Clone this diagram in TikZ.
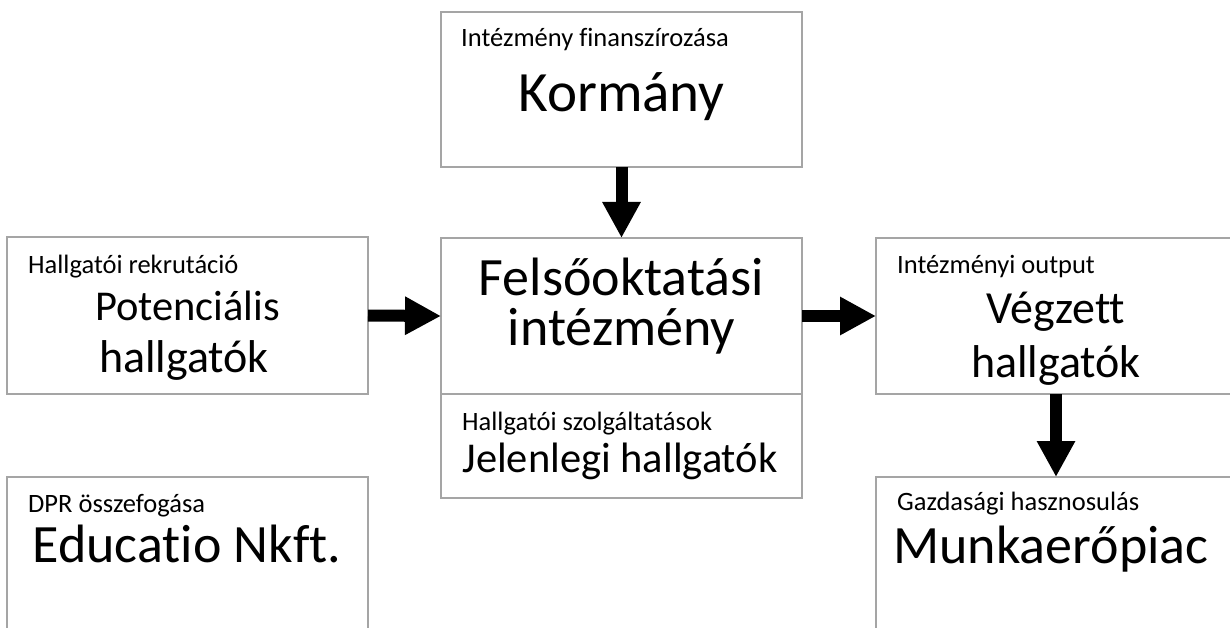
\documentclass[tikz,border=0pt]{standalone}
\usepackage{fontspec}
\setmainfont{Carlito}[Ligatures=CommonOff]
\usetikzlibrary{arrows.meta}
\definecolor{boxgray}{RGB}{165,165,165}
\begin{document}
\begin{tikzpicture}[x=1pt,y=-1pt,
  box/.style={draw=boxgray, line width=1.2pt, rectangle, inner sep=0pt, outer sep=0pt, anchor=north west},
  smalltxt/.style={font=\fontsize{26.5}{30}\selectfont, inner sep=0pt, anchor=base west},
  bigtxt/.style={font=\fontsize{54}{60}\selectfont, inner sep=0pt, anchor=base},
  midtxt/.style={font=\fontsize{44}{50}\selectfont, inner sep=0pt, anchor=base},
  fat/.style={line width=12pt, black, -{Triangle[length=36pt,width=36pt]}}]
\useasboundingbox (0,0) rectangle (1230,628);
\clip (0,0) rectangle (1230,628);
% boxes
\node[box, minimum width=361pt, minimum height=155pt] (kor) at (441,12) {};
\node[box, minimum width=361pt, minimum height=157pt] (pot) at (7,237) {};
\node[box, minimum width=361pt, minimum height=156pt] (fel) at (441,238) {};
\node[box, minimum width=361pt, minimum height=104pt] (jel) at (441,394) {};
\node[box, minimum width=360pt, minimum height=156pt] (veg) at (876,238) {};
\node[box, minimum width=361pt, minimum height=200pt] (edu) at (7,477) {};
\node[box, minimum width=360pt, minimum height=200pt] (mun) at (876,477) {};
% texts
\node[smalltxt] (korS) at (461,47) {Intézmény finanszírozása};
\node[bigtxt, font=\fontsize{57}{60}\selectfont] (korB) at (621.5,112) {Kormány};
\node[smalltxt] (potS) at (28,273) {Hallgatói rekrutáció};
\node[midtxt, font=\fontsize{42.5}{50}\selectfont] (potB1) at (187.5,320) {Potenciális};
\node[midtxt, font=\fontsize{46}{50}\selectfont] (potB2) at (184,372) {hallgatók};
\node[bigtxt] (felB1) at (621.5,295) {Felsőoktatási};
\node[bigtxt] (felB2) at (621.5,345) {intézmény};
\node[smalltxt] (jelS) at (462,430) {Hallgatói szolgáltatások};
\node[midtxt, font=\fontsize{42.5}{50}\selectfont] (jelB) at (620,472) {Jelenlegi hallgatók};
\node[smalltxt] (vegS) at (897,273) {Intézményi output};
\node[midtxt, font=\fontsize{46}{50}\selectfont] (vegB1) at (1056,323) {Végzett};
\node[midtxt, font=\fontsize{46}{50}\selectfont] (vegB2) at (1056,377) {hallgatók};
\node[smalltxt] (eduS) at (28,512) {DPR összefogása};
\node[bigtxt] (eduB) at (187,562) {Educatio Nkft.};
\node[smalltxt] (munS) at (897,510) {Gazdasági hasznosulás};
\node[bigtxt] (munB) at (1051,563) {Munkaerőpiac};
% arrows
\draw[fat] (kor.south) -- (fel.north);
\draw[fat] (pot.east) -- (fel.west);
\draw[fat] (fel.east) -- (veg.west);
\draw[fat] (veg.south) -- (mun.north);
\end{tikzpicture}
\end{document}
